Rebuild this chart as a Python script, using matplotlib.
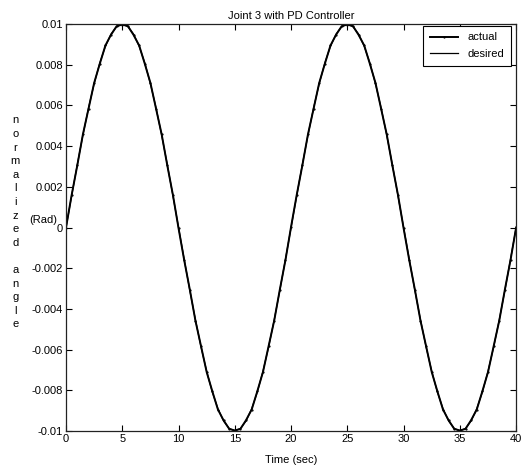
import matplotlib.pyplot as plt

plt.rcParams['font.family'] = ['Liberation Sans Narrow', 'Liberation Sans', 'DejaVu Sans']

# time axis (sec), sampled every 0.5 s
t = [i * 0.5 for i in range(81)]

# desired joint angle (rad)
desired = [
    0.0, 0.00156, 0.00309, 0.00454, 0.00588, 0.00707, 0.00809, 0.00891, 0.00951, 0.00988,
    0.01, 0.00988, 0.00951, 0.00891, 0.00809, 0.00707, 0.00588, 0.00454, 0.00309, 0.00156,
    0.0, -0.00156, -0.00309, -0.00454, -0.00588, -0.00707, -0.00809, -0.00891, -0.00951, -0.00988,
    -0.01, -0.00988, -0.00951, -0.00891, -0.00809, -0.00707, -0.00588, -0.00454, -0.00309, -0.00156,
    0.0, 0.00156, 0.00309, 0.00454, 0.00588, 0.00707, 0.00809, 0.00891, 0.00951, 0.00988,
    0.01, 0.00988, 0.00951, 0.00891, 0.00809, 0.00707, 0.00588, 0.00454, 0.00309, 0.00156,
    0.0, -0.00156, -0.00309, -0.00454, -0.00588, -0.00707, -0.00809, -0.00891, -0.00951, -0.00988,
    -0.01, -0.00988, -0.00951, -0.00891, -0.00809, -0.00707, -0.00588, -0.00454, -0.00309, -0.00156,
    0.0,
]

# actual joint angle (rad), tracks the desired one with small wiggles
actual = [
    0.0, 0.00160, 0.00305, 0.00458, 0.00584, 0.00711, 0.00805, 0.00895, 0.00948, 0.00990,
    0.00998, 0.00990, 0.00947, 0.00895, 0.00805, 0.00711, 0.00584, 0.00458, 0.00305, 0.00160,
    -0.00004, -0.00160, -0.00305, -0.00458, -0.00584, -0.00711, -0.00805, -0.00895, -0.00948, -0.00990,
    -0.00998, -0.00990, -0.00947, -0.00895, -0.00805, -0.00711, -0.00584, -0.00458, -0.00305, -0.00160,
    0.00004, 0.00160, 0.00305, 0.00458, 0.00584, 0.00711, 0.00805, 0.00895, 0.00948, 0.00990,
    0.00998, 0.00990, 0.00947, 0.00895, 0.00805, 0.00711, 0.00584, 0.00458, 0.00305, 0.00160,
    -0.00004, -0.00160, -0.00305, -0.00458, -0.00584, -0.00711, -0.00805, -0.00895, -0.00948, -0.00990,
    -0.00998, -0.00990, -0.00947, -0.00895, -0.00805, -0.00711, -0.00584, -0.00458, -0.00305, -0.00160,
    0.0,
]

xticks = [0, 5, 10, 15, 20, 25, 30, 35, 40]
yticks = [0.01, 0.008, 0.006, 0.004, 0.002, 0, -0.002, -0.004, -0.006, -0.008, -0.01]
ylabels = ['0.01', '0.008', '0.006', '0.004', '0.002', '0',
           '-0.002', '-0.004', '-0.006', '-0.008', '-0.01']

fig = plt.figure(figsize=(5.24, 4.73), dpi=100)
ax = fig.add_axes([0.126, 0.089, 0.859, 0.86])

ax.plot(t, actual, color='black', lw=1.4, marker='.', ms=1.2, label='actual')
ax.plot(t, desired, color='black', lw=0.9, label='desired')

ax.set_xlim(0, 40)
ax.set_ylim(-0.01, 0.01)
ax.set_xticks(xticks)
ax.set_xticklabels([str(x) for x in xticks])
ax.set_yticks(yticks)
ax.set_yticklabels(ylabels)
ax.tick_params(direction='in', top=True, right=True, length=4, width=0.8,
               labelsize=8, pad=2)
for s in ax.spines.values():
    s.set_linewidth(0.9)
    s.set_color('#222222')

ax.set_title('Joint 3 with PD Controller', fontsize=8, pad=4)
ax.set_xlabel('Time (sec)', fontsize=8, labelpad=8)

fig.text(0.029, 0.53, 'n\no\nr\nm\na\nl\ni\nz\ne\nd\n\na\nn\ng\nl\ne',
         fontsize=8, ha='center', va='center', linespacing=1.45)
fig.text(0.083, 0.535, '(Rad)', fontsize=8, ha='center', va='center')

leg = ax.legend(loc='upper right', bbox_to_anchor=(0.988, 0.996), fontsize=8,
                frameon=True, fancybox=False, edgecolor='black', framealpha=1,
                borderaxespad=0, borderpad=0.6, handlelength=2.6,
                labelspacing=0.6)
leg.get_frame().set_linewidth(0.8)

plt.savefig('out.png', dpi=100)
